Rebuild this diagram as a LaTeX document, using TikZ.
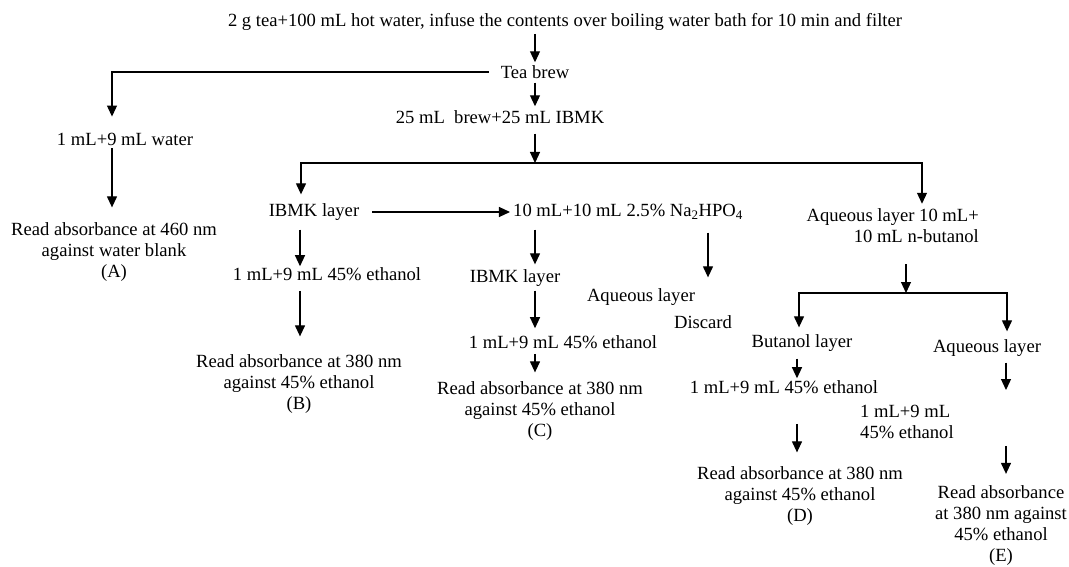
\documentclass[tikz,border=0pt]{standalone}
\usepackage{fontspec}
\setmainfont{Liberation Serif}
\usetikzlibrary{arrows.meta}
\tikzset{
	txt/.style={inner sep=0pt, align=center, font=\fontsize{18.6pt}{21pt}\selectfont},
	arr/.style={line width=1.2pt, -{Triangle[width=10pt,length=11pt]}}
}
\begin{document}
\begin{tikzpicture}[x=1pt,y=-1pt]
		\useasboundingbox (0,0) rectangle (1069,567);
		
		\node[txt] (tea) at (565,22) {2 g tea+100 mL hot water, infuse the contents over boiling water bath for 10 min and filter};
		\node[txt] (brew) at (535,72) {Tea brew};
		\node[txt] (mix) at (500,117) {25 mL~ brew+25 mL IBMK};
		\node[txt] (dil) at (125,139) {1 mL+9 mL water};
		\node[txt] (readA) at (114,252) {Read absorbance at 460 nm\\against water blank\\(A)};
		
		\node[txt] (ibmk) at (314,212) {IBMK layer};
		\node[txt] (ethB) at (327,274) {1 mL+9 mL 45\% ethanol};
		\node[txt] (readB) at (299,384) {Read absorbance at 380 nm\\against 45\% ethanol\\(B)};
		
		\node[txt] (phos) at (628,212) {10 mL+10 mL 2.5\% Na\textsubscript{2}HPO\textsubscript{4}};
		\node[txt] (ibmkC) at (515,278) {IBMK layer};
		\node[txt] (ethC) at (563,342) {1 mL+9 mL 45\% ethanol};
		\node[txt] (readC) at (540,411) {Read absorbance at 380 nm\\against 45\% ethanol\\(C)};
		\node[txt] (aqW) at (641,297) {Aqueous layer};
		\node[txt] (disc) at (703,322) {Discard};
		
		\node[txt, align=right, anchor=east] (aqB) at (979,226) {Aqueous layer 10 mL+\\10 mL n-butanol};
		\node[txt] (but) at (802,343) {Butanol layer};
		\node[txt] (aqE) at (987,348) {Aqueous layer};
		\node[txt] (ethD) at (784,387) {1 mL+9 mL 45\% ethanol};
		\node[txt] (readD) at (800,496) {Read absorbance at 380 nm\\against 45\% ethanol\\(D)};
		\node[txt, align=left, anchor=west] (ethE) at (860,422) {1 mL+9 mL\\45\% ethanol};
		\node[txt] (readE) at (1001,526) {Read absorbance\\at 380 nm against\\45\% ethanol\\(E)};
		
		\coordinate (cA) at (112,72);
		\coordinate (s1) at (535,163);
		\coordinate (s1l) at (301,163);
		\coordinate (s1r) at (922,163);
		\coordinate (cB) at (300,0);
		\coordinate (cC) at (535,0);
		\coordinate (cW) at (708,0);
		\coordinate (s2) at (906,293);
		\coordinate (s2l) at (799,293);
		\coordinate (s2r) at (1007,293);
		\coordinate (cD) at (797,0);
		\coordinate (cE) at (1006,0);
		
		\draw[arr, shorten <=3pt, shorten >=3pt] (brew |- tea.south) -- (brew);
		\draw[arr, shorten <=4pt, shorten >=4pt] (brew) -- (brew |- mix.north);
		\draw[arr, shorten >=16pt] ([xshift=-12pt]brew.west) -| (cA |- dil.north);
		\draw[arr, shorten <=3pt, shorten >=15pt] (cA |- dil.south) -- (cA |- readA.north);
		
		\draw[arr, shorten <=10pt] (s1 |- mix.south) -- (s1);
		\draw[arr, shorten >=9pt] (s1) -| (s1l |- ibmk.north);
		\draw[arr, shorten >=5pt] (s1) -| (s1r |- aqB.north);
		
		\draw[arr, shorten <=13pt, shorten >=3pt] (ibmk) -- (phos);
		\draw[arr, shorten <=9pt, shorten >=1pt] (cB |- ibmk.south) -- (cB |- ethB.north);
		\draw[arr, shorten <=10pt, shorten >=18pt] (cB |- ethB.south) -- (cB |- readB.north);
		
		\draw[arr, shorten <=10pt, shorten >=5pt] (cC |- phos.south) -- (cC |- ibmkC.north);
		\draw[arr, shorten <=4pt, shorten >=7pt] (cC |- ibmkC.south) -- (cC |- ethC.north);
		\draw[arr, shorten <=5pt, shorten >=9pt] (cC |- ethC.south) -- (cC |- readC.north);
		\draw[arr, shorten <=13pt, shorten >=11pt] (cW |- phos.south) -- (cW |- aqW.north);
		
		\draw[arr, shorten <=21pt] (s2 |- aqB.south) -- (s2);
		\draw[arr, shorten >=7pt] (s2) -| (s2l |- but.north);
		\draw[arr, shorten >=8pt] (s2) -| (s2r |- aqE.north);
		\draw[arr, shorten <=7pt, shorten >=2pt] (cD |- but.south) -- (cD |- ethD.north);
		\draw[arr, shorten <=30pt, shorten >=14pt] (cD |- ethD.south) -- (cD |- readD.north);
		\draw[arr, shorten <=6pt, shorten >=15pt] (cE |- aqE.south) -- (cE |- ethE.north);
		\draw[arr, shorten <=7pt, shorten >=12pt] (cE |- ethE.south) -- (cE |- readE.north);
\end{tikzpicture}
\end{document}
